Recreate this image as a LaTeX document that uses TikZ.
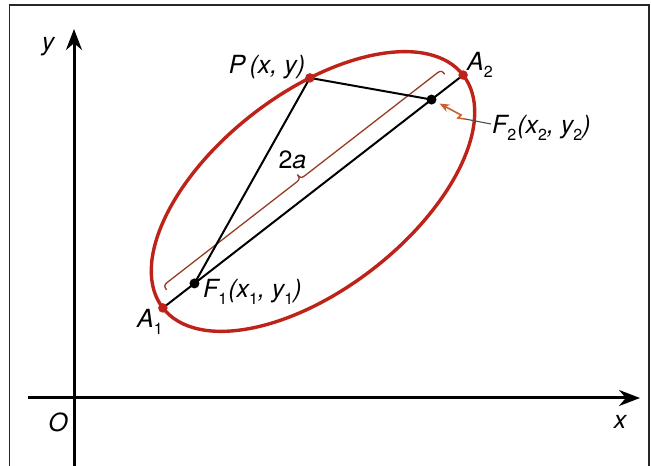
\documentclass[tikz,border=0pt]{standalone}
\usepackage{fontspec}
\setmainfont{TeX Gyre Heros}
\usetikzlibrary{arrows.meta,calc}
\definecolor{ellred}{RGB}{190,35,25}
\definecolor{brk}{RGB}{150,60,35}
\definecolor{arr}{RGB}{205,95,45}
\newcommand{\sbs}[1]{\raisebox{-0.25em}{\fontsize{16}{16}\selectfont\upshape #1}}
\begin{document}
\begin{tikzpicture}[x=1pt,y=1pt,
  axis/.style={line width=3pt,-{Stealth[length=21pt,width=16pt]}},
  seg/.style={line width=2pt},
  lab/.style={font=\fontsize{25}{27}\selectfont\itshape, inner sep=0pt},
  reddot/.style={circle,fill=ellred,inner sep=0pt,minimum size=9.5pt},
  blackdot/.style={circle,fill=black,inner sep=0pt,minimum size=10pt}]
\useasboundingbox (0,0) rectangle (651,466);
\draw[line width=1.4pt, black!85] (9.5,0) -- (9.5,461) -- (649,461) -- (649,0);
\coordinate (xs) at (28,68); \coordinate (xe) at (640,68);
\coordinate (ys) at (74,0); \coordinate (ye) at (74,437);
\draw[axis] (xs) -- (xe);
\draw[axis] (ys) -- (ye);
\node[lab] (ylab) at (48,419) {y};
\node[lab] (xlab) at (620,44) {x};
\node[lab] (olab) at (58,44) {O};
\begin{scope}[shift={(313,274.5)}, rotate=37.8]
  \draw[ellred, line width=3.4pt] (0,0) ellipse [x radius=190, y radius=98];
  \coordinate (A1) at (-190,0);
  \coordinate (A2) at (190,0);
  \coordinate (F1) at (-150,0);
  \coordinate (F2) at (150,0);
  \coordinate (P) at (69.3:190 and 98);
  \coordinate (twoa) at (3.5,38);
  \draw[brk, line width=1.3pt] (-176,12) .. controls (-176,16) and (-175,17.5) .. (-171,17.5)
     -- (-7,17.5) .. controls (-3,17.5) and (-2,19) .. (-2,23)
     .. controls (-2,19) and (-1,17.5) .. (3,17.5)
     -- (171,17.5) .. controls (175,17.5) and (176,16) .. (176,12);
\end{scope}
\draw[seg] (A1) -- (A2);
\draw[seg] (P) -- (F1);
\draw[seg] (P) -- (F2);
\node[reddot] (dA1) at (A1) {};
\node[reddot] (dA2) at (A2) {};
\node[reddot] (dP) at (P) {};
\node[blackdot] (dF1) at (F1) {};
\node[blackdot] (dF2) at (F2) {};
\node[lab] (Plab) at (267,399) {P\,(x, y)};
\node[lab] (A2lab) at (480,401) {A\sbs{2}};
\node[lab, anchor=west] (F2lab) at (492,338) {F\sbs{2}\kern1pt(x\sbs{2}, y\sbs{2})};
\node[lab, anchor=west] (F1lab) at (203,174) {F\sbs{1}\kern1pt(x\sbs{1}, y\sbs{1})};
\node[lab] (A1lab) at (150,144) {A\sbs{1}};
\node[lab] (alab) at (twoa) {\upshape 2\itshape a};
\coordinate (zt) at ($(F2lab.west)+(-27,9)$);
\draw[line width=1.1pt, black!70] ($(F2lab.west)+(-1,4)$) -- (zt);
\draw[arr, line width=1.6pt, -{Stealth[length=10pt,width=8pt]}] (zt) -- ++(-7,1) -- ++(3,3) -- ($(dF2)+(8,-4)$);
\end{tikzpicture}
\end{document}
